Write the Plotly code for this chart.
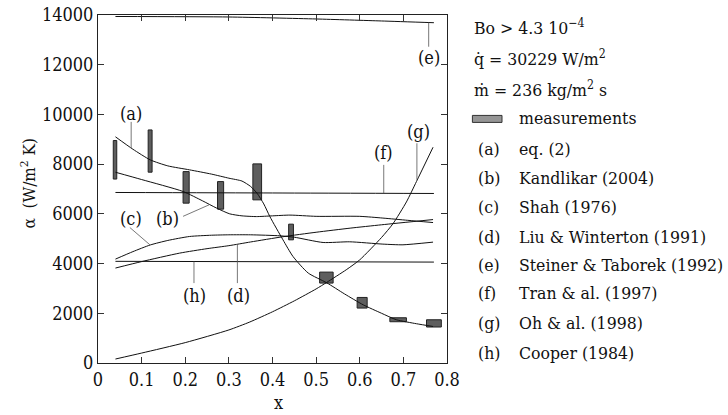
import plotly.graph_objects as go

# ---------------- data ----------------
a_x = [0.04, 0.08, 0.12, 0.16, 0.21, 0.26, 0.30, 0.33, 0.35, 0.365, 0.38, 0.394, 0.424, 0.447, 0.482, 0.524, 0.565, 0.608, 0.65, 0.684, 0.73, 0.768]
a_y = [9100, 8600, 8170, 7930, 7770, 7600, 7435, 7320, 7100, 6820, 6400, 5890, 4955, 4285, 3617, 3230, 2780, 2340, 2000, 1740, 1580, 1470]

b_x = [0.04, 0.1, 0.195, 0.24, 0.272, 0.302, 0.33, 0.363, 0.40, 0.44, 0.5, 0.6, 0.653, 0.71, 0.768]
b_y = [7675, 7380, 6900, 6520, 6230, 6000, 5920, 5890, 5920, 5950, 5900, 5900, 5830, 5740, 5650]

c_x = [0.04, 0.08, 0.12, 0.16, 0.21, 0.26, 0.30, 0.35, 0.417, 0.45, 0.516, 0.577, 0.653, 0.699, 0.768]
c_y = [4180, 4480, 4750, 4930, 5090, 5140, 5157, 5157, 5117, 5060, 4848, 4876, 4783, 4755, 4862]

d_x = [0.04, 0.1, 0.187, 0.25, 0.30, 0.35, 0.424, 0.5, 0.578, 0.65, 0.768]
d_y = [3820, 4080, 4420, 4600, 4720, 4870, 5080, 5260, 5425, 5560, 5770]

e_x = [0.04, 0.3, 0.5, 0.65, 0.77]
e_y = [13940, 13920, 13840, 13760, 13690]

f_x = [0.04, 0.4, 0.77]
f_y = [6860, 6840, 6820]

g_x = [0.04, 0.1, 0.2, 0.3, 0.348, 0.4, 0.45, 0.5, 0.524, 0.569, 0.6, 0.65, 0.676, 0.707, 0.73, 0.768]
g_y = [160, 400, 820, 1330, 1650, 2060, 2500, 2980, 3240, 3750, 4150, 5050, 5600, 6480, 7300, 8680]

h_x = [0.04, 0.77]
h_y = [4090, 4060]

# measurements: x range and alpha range of each box
meas_x_lo = [0.035, 0.115, 0.195, 0.274, 0.355, 0.437, 0.508, 0.594, 0.669, 0.753]
meas_x_hi = [0.043, 0.124, 0.209, 0.288, 0.375, 0.448, 0.539, 0.617, 0.707, 0.787]
meas_y_lo = [7400, 7676, 6430, 6189, 6563, 4955, 3215, 2210, 1660, 1447]
meas_y_hi = [8950, 9376, 7701, 7299, 8010, 5586, 3657, 2637, 1820, 1740]

# curve labels: text, label position, leader line
lab_text = ["(a)", "(b)", "(c)", "(d)", "(e)", "(f)", "(g)", "(h)"]
lab_x = [0.0765, 0.16, 0.0765, 0.321, 0.758, 0.655, 0.734, 0.2217]
lab_y = [10050, 5830, 5830, 2705, 12310, 8464, 9308, 2705]
lead_x0 = [0.076, 0.195, 0.073, 0.3195, 0.758, 0.655, 0.731, 0.22]
lead_y0 = [9700, 5900, 5450, 3215, 12724, 7970, 8840, 3215]
lead_x1 = [0.076, 0.255, 0.119, 0.3195, 0.758, 0.655, 0.731, 0.22]
lead_y1 = [8640, 6365, 4755, 4755, 13700, 6832, 7370, 4083]

x_ticks = [0, 0.1, 0.2, 0.3, 0.4, 0.5, 0.6, 0.7, 0.8]
y_ticks = [0, 2000, 4000, 6000, 8000, 10000, 12000, 14000]

legend_head = ["Bo > 4.3 10<sup>\u22124</sup>", "q\u0307 = 30229 W/m<sup>2</sup>", "m\u0307 = 236 kg/m<sup>2</sup> s"]
legend_keys = ["(a)", "(b)", "(c)", "(d)", "(e)", "(f)", "(g)", "(h)"]
legend_names = ["eq. (2)", "Kandlikar (2004)", "Shah (1976)", "Liu & Winterton (1991)",
                "Steiner & Taborek (1992)", "Tran & al. (1997)", "Oh & al. (1998)", "Cooper (1984)"]

# ---------------- figure ----------------
W, H = 728, 415
PL, PR, PT, PB = 98.3, 447.3, 15.0, 363.3   # plot box in window pixels
ML, MT = PL, PT
MR = W - PR
MB = H - PB
pw = PR - PL
ph = PB - PT

def px2paper_x(px):
    return (px - PL) / pw

def px2paper_y(py):
    return (PB - py) / ph

FONT = "DejaVu Serif Condensed, DejaVu Serif"
FS = 18
FS_LEG = 17.5

def tfont(size=FS):
    return dict(family=FONT, size=size, color="#111111")

fig = go.Figure()

fig.add_trace(go.Bar(
    x=[(lo + hi) / 2 for lo, hi in zip(meas_x_lo, meas_x_hi)],
    y=[hi - lo for lo, hi in zip(meas_y_lo, meas_y_hi)],
    base=meas_y_lo,
    width=[hi - lo for lo, hi in zip(meas_x_lo, meas_x_hi)],
    marker=dict(color="#5e5e5e", line=dict(color="#222222", width=1)),
    showlegend=False, hoverinfo="skip"))

for xs, ys in [(a_x, a_y), (b_x, b_y), (c_x, c_y), (d_x, d_y), (e_x, e_y), (f_x, f_y), (g_x, g_y), (h_x, h_y)]:
    fig.add_trace(go.Scatter(x=xs, y=ys, mode="lines",
                             line=dict(color="#111111", width=1, shape="spline", smoothing=0.6),
                             showlegend=False, hoverinfo="skip"))

for x0, y0, x1, y1 in zip(lead_x0, lead_y0, lead_x1, lead_y1):
    fig.add_trace(go.Scatter(x=[x0, x1], y=[y0, y1], mode="lines",
                             line=dict(color="#555555", width=0.8),
                             showlegend=False, hoverinfo="skip"))

annotations = []
for t, x, y in zip(lab_text, lab_x, lab_y):
    annotations.append(dict(x=x, y=y, xref="x", yref="y", text=t, showarrow=False,
                            font=tfont(), xanchor="center", yanchor="middle"))

annotations.append(dict(x=px2paper_x(28), y=px2paper_y(184), xref="paper", yref="paper",
                        text="\u03b1  (W/m<sup>2</sup> K)", textangle=-90, showarrow=False,
                        font=tfont(17), xanchor="center", yanchor="middle"))
annotations.append(dict(x=px2paper_x(279), y=px2paper_y(403), xref="paper", yref="paper",
                        text="x", showarrow=False, font=tfont(), xanchor="center", yanchor="middle"))

row_y = [26.7, 58.3, 89, 118.3, 149, 178.3, 207.5, 236.7, 265, 293.3, 323, 353.3]
for i, t in enumerate(legend_head):
    annotations.append(dict(x=px2paper_x(472.7), y=px2paper_y(row_y[i]), xref="paper", yref="paper",
                            text=t, showarrow=False, font=tfont(FS_LEG),
                            xanchor="left", yanchor="middle"))
annotations.append(dict(x=px2paper_x(517.3), y=px2paper_y(row_y[3]), xref="paper", yref="paper",
                        text="measurements", showarrow=False, font=tfont(FS_LEG),
                        xanchor="left", yanchor="middle"))
for i, (k, n) in enumerate(zip(legend_keys, legend_names)):
    yy = px2paper_y(row_y[4 + i])
    annotations.append(dict(x=px2paper_x(476.7), y=yy, xref="paper", yref="paper",
                            text=k, showarrow=False, font=tfont(FS_LEG),
                            xanchor="left", yanchor="middle"))
    annotations.append(dict(x=px2paper_x(517.3), y=yy, xref="paper", yref="paper",
                            text=n, showarrow=False, font=tfont(FS_LEG),
                            xanchor="left", yanchor="middle"))

shapes = [dict(type="rect", xref="paper", yref="paper",
               x0=px2paper_x(472.7), x1=px2paper_x(502.3),
               y0=px2paper_y(122.5), y1=px2paper_y(115.5),
               fillcolor="#959595", line=dict(color="#333333", width=1))]

axis_common = dict(showgrid=False, zeroline=False, showline=True, linecolor="#222222", linewidth=1,
                   mirror="ticks", ticks="inside", ticklen=6, tickcolor="#333333", tickwidth=1,
                   tickfont=tfont(), automargin=False, ticklabeloverflow="allow")

fig.update_layout(
    width=W, height=H, margin=dict(l=ML, r=MR, t=MT, b=MB, autoexpand=False),
    paper_bgcolor="white", plot_bgcolor="white", barmode="overlay",
    xaxis=dict(range=[0, 0.8], tickvals=x_ticks, ticktext=[("0" if v == 0 else f"{v:g}") for v in x_ticks],
               **axis_common),
    yaxis=dict(range=[0, 14000], tickvals=y_ticks, ticktext=[str(v) for v in y_ticks],
               **axis_common),
    annotations=annotations, shapes=shapes,
)

# remove the default 8 px page margin so the figure fills the window exactly
fig.write_html("out.html", config={"displayModeBar": False},
               post_script="document.body.style.margin='0';")
